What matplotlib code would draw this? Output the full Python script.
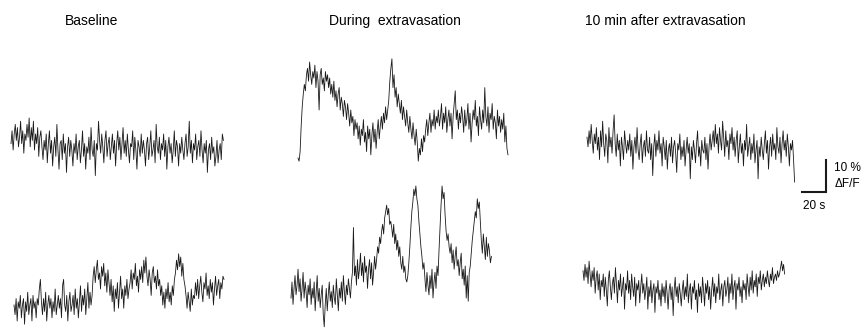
import numpy as np
import matplotlib
matplotlib.use('Agg')
import matplotlib.pyplot as plt

plt.rcParams['font.family'] = ['Liberation Sans', 'DejaVu Sans']

titles = ['Baseline', 'During  extravasation', '10 min after extravasation']

# dF/F traces in % (cell 1 = top row, cell 2 = bottom row)
base_1 = [2, 6, 0, 5, 8, 3, 7, 1, 4, 9, 2, 6, -1, 5, 3, 8, 4, 10, 1, 7,
          3, 9, 0, 5, 2, 7, -2, 4, 6, 1, -3, 3, 0, 5, -4, 2, 6, -1, 3, -5,
          1, 4, -2, 8, 0, -6, 2, 3, -3, 5, -1, 2, -7, 1, 4, -2, 3, 0, -5, 2,
          -1, 5, -3, 1, 3, -4, 0, 6, -2, 2, -6, 1, -1, 4, -3, 7, 0, -2, 3, -8,
          2, 0, 9, 3, -1, 5, 1, -4, 3, 6, -2, 2, 4, -3, 1, 5, -1, 3, -5, 2,
          6, 0, 4, -3, 2, 7, -1, 3, -2, 5, 0, -4, 2, 1, 6, -3, 4, 0, -6, 3,
          1, -2, 5, -1, 3, 0, -5, 2, 4, -3, 1, 6, -2, 0, 3, -4, 8, 1, -1, 4,
          -3, 2, 0, 5, -2, 3, -6, 1, 4, -1, 2, -4, 0, 6, -2, 3, 1, -5, 2, -1,
          4, 0, -3, 2, 5, -2, 1, 9, -1, 3, -4, 2, 0, 5, -3, 1, 3, -2, 6, 0,
          -4, 2, -1, 3, -7, 0, 2, -3, 4, -1, 1, -5, -2, 3, -4, 0, 2, -3, 5, 3]
base_2 = [0, -3, 2, -5, 1, -1, 3, -4, 0, 2, -6, 1, -2, 4, -3, 0, 2, -5, 3, -1,
          1, -4, 2, 0, 5, 8, 1, -3, 2, -2, 4, -5, 0, 3, -1, 2, -4, 1, -2, 5,
          -3, 0, 3, -1, 2, -4, 6, 8, 0, -2, 3, -5, 1, 4, -2, 0, 3, -3, 5, -1,
          2, -4, 1, 6, -2, 3, 0, 5, -3, 2, 7, -1, 4, 0, 3,
          9, 12, 7, 11, 14, 8, 10, 5, 12, 9, 13, 6, 10, 4, 11, 7,
          3, 8, 1, 6, -2, 5, 2, 7, -1, 4, 9, 2, 5, -1, 6, 3, 8, 2, 5,
          7, 11, 5, 10, 8, 13, 6, 9, 4, 11, 8, 12, 7, 14, 10, 15, 9, 6, 11, 8,
          3, 10, 12, 7, 9, 5, 11, 6, 8,
          3, 6, 0, 4, -1, 5, 2, 7, 1, 4, 0, 6, 3, 8,
          10, 14, 11, 16, 12, 15, 9, 13, 8, 6,
          3, -1, 4, 1, -2, 5, 0, 3, 2,
          7, 3, 8, 2, 6, 9, 4, 1, 7, 5, 10, 3, 6, 2, 8, 4, 7, 0, 5, 9,
          3, 6, 8, 2, 7, 5, 9, 8]
during_1 = [0, -1, 2, 10, 16, 20, 23, 21, 26,
            28, 24, 30, 26, 23, 27, 25, 29, 22, 27, 24, 15, 26, 28, 23, 25, 21, 27, 24, 26,
            22, 25, 20,
            23, 19, 24, 18, 21, 16, 20, 22, 15, 19, 17, 13, 18,
            16, 12, 17, 14, 10, 15, 11, 13, 7, 12, 9, 11,
            6, 10, 4, 9, 7, 12, 5, 8, 2, 10, 6, 9, 1, 7, 11, 5, 9, 3, 8, 12, 6, 10, 13,
            9, 14, 11, 16, 12, 15, 18,
            24, 28, 31, 22, 26,
            19, 22, 16, 20, 17, 14, 18, 12, 16, 13, 10, 15, 11, 8, 13, 9, 6, 11, 7, 4, 9, 5,
            -1, 3, 1, 6, 2, 7,
            5, 9, 12, 7, 11, 14, 8, 12, 10, 15, 9, 13, 11,
            15, 10, 13, 17, 9, 14, 11, 16, 8, 12, 15, 10, 14, 6, 13, 17, 21, 12, 15, 9,
            14, 11, 16, 13, 8, 15, 10, 12, 17, 9, 14, 5, 11, 15, 12, 18, 10, 13, 7, 16,
            12, 9, 15, 11, 22, 13, 10, 16, 8, 14, 12, 17, 9, 13, 11, 6, 15, 10, 13, 8,
            12, 9, 14, 5, 10, 3, 1]
during_2 = [0, 5, -2, 3, 7, 1, 4, 9, 2, 6, -1, 3, 8, 0, 5, 2, -3, 4, 1, 6,
            -2, 3, 0, 5, -4, 2, 7, -1, 3, -3, 1, 4, -5, -9, -2, 3, -4, 1, 5, -1,
            2, -3, 4, 0, -2, 6, 1, -4, 3, 0, 5, -1, 7, 2, -2, 4, 1, 6, 3, 0, 5, 8,
            22, 7,
            10, 4, 12, 6, 9, 14, 7, 11, 5, 13, 8, 10, 3, 9, 12, 6, 11, 4, 8, 13, 9,
            12, 16, 14, 19, 17, 21, 23, 20, 25, 27,
            29, 26, 28, 23, 24,
            22, 19, 23, 17, 20, 15, 18, 13, 16, 11, 9, 13, 8, 10, 6, 5,
            7, 11, 16, 22, 27, 30,
            34, 32, 35, 31, 29,
            24, 20, 16, 13, 9, 11,
            6, 2, 8, 4, 1, 7, 3, 9, 0, 5, 8, 3, 10, 7,
            15, 22, 29,
            35, 31, 33,
            26, 21, 18, 20, 16,
            14, 17, 11, 15, 9, 13, 16, 10, 12, 7, 11, 14, 6, 9, 4, 10, 0, 7, -1, 8,
            10, 14, 18, 21, 24, 27, 25,
            31, 28, 30, 24,
            18, 14, 20, 16, 12, 19, 13, 17, 15, 11, 13]
after_1 = [4, 1, 6, 2, 8, 3, -1, 5, 2, 7, 0, 4, -3, 6, 1, 9, 2, -2, 5, 3,
           -4, 7, 1, 4, -1, 6, 11, 2, -2, 5, 0, 3, -5, 4, 1, -3, 6, 2, -1, 3,
           0, 5, -2, 3, -6, 1, 4, -1, 7, 0, -3, 2, 5, -4, 1, 3, -2, 6, 0, -1,
           4, -3, 2, -8, 1, 5, -2, 3, 0, 6, -1, 2, -5, 4, 1, -3, 3, -6, 0, 2,
           -2, 4, -4, 1, 3, -1, -7, 2, 0, 5, -3, 1, -2, 3, -5, 0, 4, -1, 2, -9,
           1, -3, 3, 0, -4, 2, 6, -2, 1, -5, 3, 0, -1, 4, -3, 2, -6, 1, 5, 0,
           3, 6, 1, 8, 2, 5, -1, 7, 3, 0, 9, 4, -2, 6, 1, 3, -3, 5, 2, 7,
           0, 4, -2, 3, 6, -4, 1, 5, -1, 2, -5, 3, 0, 8, -2, 1, 4, -3, 2, -1,
           5, -4, 0, 3, -9, 1, -2, 4, 0, -3, 2, 6, -1, 3, -6, 1, 4, -2, 5, 0,
           2, -3, 7, 1, -1, 4, -4, 2, 6, 0, 3, -2, 5, 1, -5, 2, 0, 3, -3, -10]
after_2 = [6, 3, 8, 4, 7, 2, 9, 5, 1, 6, 3, 7, -1, 4, 6, 0, 5, -3, 3, 1,
           5, -2, 4, 0, -5, 3, 6, 1, -3, 2, 4, -1, 7, 2, -4, 3, 0, 5, -2, 1,
           4, -6, 2, 0, 6, -1, 3, -3, 5, 1, -2, 4, -5, 2, 0, 3, -4, 1, 5, -1,
           2, -3, 0, 4, -6, 1, -2, 3, -4, 0, 2, -7, 1, -1, 3, -3, 0, -5, 2, -2,
           1, -4, 3, -1, -6, 0, 2, -3, 1, -8, 0, 4, -2, 1, -4, 2, -1, -5, 0, 3,
           -3, 1, -2, 5, -4, 0, 2, -6, 1, -1, 3, -3, 0, -7, 2, -2, 1, -4, 4, 0,
           -5, 2, -1, 3, -3, 1, -6, 0, 4, -2, 2, -4, 1, -1, 5, -3, 0, 2, -5, 1,
           3, -2, 0, 4, -4, 2, -1, 5, -3, 1, 3, -6, 2, 0, 4, -2, 1, -4, 3, 0,
           2, -3, 5, 1, -2, 4, 0, 6, -1, 3, 1, 5, -2, 4, 2, 6, 0, 3, 5, 1,
           4, 2, 6, 3, 1, 5, 3, 7, 2, 4, 5, 3, 6, 4, 5, 7, 9, 6, 8, 5]

# recording length of each trace, seconds
durations = [177, 175, 175, 167, 173, 168]

W, H = 867, 335
px_per_s = 24 / 20     # 20 s scale bar = 24 px
px_per_pct = 32 / 10   # 10 % scale bar = 32 px

fig = plt.figure(figsize=(W / 100, H / 100), dpi=100)


def anchored_axes(x0, y0):
    # full-figure axes where (0 s, 0 %) lands on pixel (x0, y0) measured from top-left
    ax = fig.add_axes([0, 0, 1, 1])
    ax.set_xlim(-x0 / px_per_s, (W - x0) / px_per_s)
    ax.set_ylim(-(H - y0) / px_per_pct, y0 / px_per_pct)
    ax.axis('off')
    return ax


traces = [base_1, base_2, during_1, during_2, after_1, after_2]
anchors = [(11, 150), (14, 305), (298, 158), (291, 298), (587, 150), (583, 290)]

for vals, dur, (x0, y0) in zip(traces, durations, anchors):
    ax = anchored_axes(x0, y0)
    t = np.linspace(0, dur, len(vals))
    ax.plot(t, vals, color='#1a1a1a', lw=0.6)

# scale bar
ax = anchored_axes(802, 192)
ax.plot([0, 20, 20], [0, 0, 10], color='#1a1a1a', lw=1.5, solid_joinstyle='miter')
ax.text(27, 7.5, '10 %', fontsize=8.5, ha='left', va='center')
ax.text(27, 2.6, '\u0394F/F', fontsize=8.5, ha='left', va='center')
ax.text(0.5, -2.5, '20 s', fontsize=8.5, ha='left', va='top')

for title, xc in zip(titles, [92, 395, 665]):
    fig.text(xc / W, 1 - 21 / H, title, fontsize=10, ha='center', va='center')

fig.savefig('out.png', dpi=100)
